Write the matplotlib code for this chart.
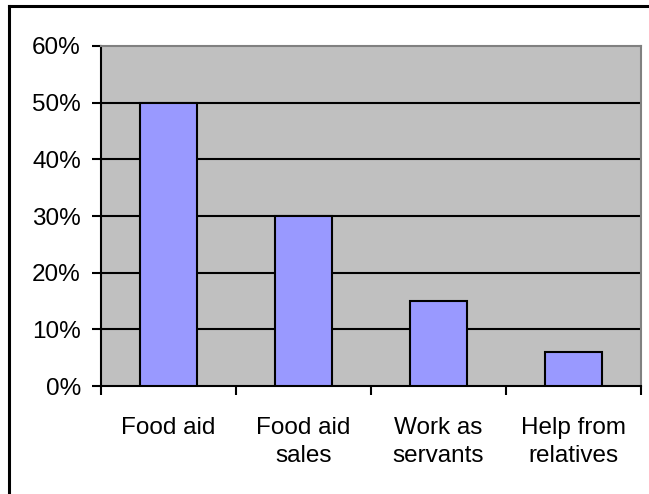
import matplotlib
matplotlib.use("Agg")
import matplotlib.pyplot as plt
from matplotlib.lines import Line2D

categories = ["Food aid", "Food aid\nsales", "Work as\nservants", "Help from\nrelatives"]
shares = [0.50, 0.30, 0.15, 0.06]
y_ticks = [0.0, 0.1, 0.2, 0.3, 0.4, 0.5, 0.6]
y_labels = ["0%", "10%", "20%", "30%", "40%", "50%", "60%"]

plt.rcParams["font.family"] = ["Liberation Sans", "DejaVu Sans"]

fig = plt.figure(figsize=(6.49, 4.94), dpi=100)
ax = fig.add_axes([101 / 649, 1 - 386 / 494, 540 / 649, 340 / 494])
ax.set_facecolor("#C0C0C0")

x = list(range(len(categories)))
ax.bar(x, shares, width=0.415, color="#9999FF", edgecolor="black", linewidth=1.5, zorder=3)

ax.set_xlim(-0.5, len(categories) - 0.5)
ax.set_ylim(0, 0.6)

# horizontal gridlines between the bottom axis and the top edge
for t in y_ticks[1:-1]:
    ax.axhline(t, color="black", linewidth=1.5, zorder=1)

ax.set_yticks(y_ticks)
ax.set_yticklabels(y_labels, fontsize=17.5)
ax.set_xticks([i - 0.5 for i in range(len(categories) + 1)])
ax.set_xticklabels([])
ax.set_xticks(x, minor=True)
ax.set_xticklabels(categories, minor=True, fontsize=17.5, linespacing=1.4)

ax.tick_params(axis="y", direction="out", length=6.5, width=1.5, pad=8)
ax.tick_params(axis="x", which="major", direction="out", length=6.5, width=1.5)
ax.tick_params(axis="x", which="minor", length=0, pad=22)

for side in ("left", "bottom"):
    ax.spines[side].set_color("black")
    ax.spines[side].set_linewidth(1.5)
for side in ("top", "right"):
    ax.spines[side].set_color("#808080")
    ax.spines[side].set_linewidth(1.5)

# outer chart border
fig.add_artist(Line2D([9 / 649, 1.0], [1 - 6 / 494, 1 - 6 / 494], color="black", linewidth=2.2))
fig.add_artist(Line2D([9 / 649, 9 / 649], [0.0, 1 - 6 / 494], color="black", linewidth=2.2))

fig.savefig("out.png", dpi=100)
